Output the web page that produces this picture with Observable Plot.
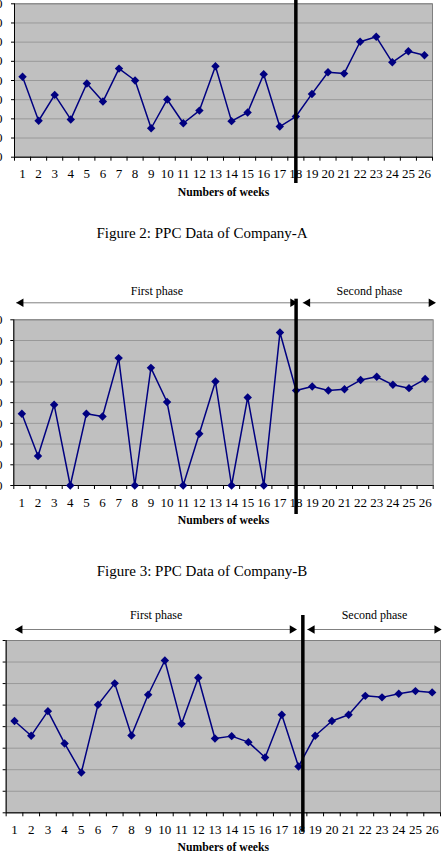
<!DOCTYPE html>
<html><head><meta charset="utf-8">
<script src="https://cdn.jsdelivr.net/npm/d3@7"></script>
<script src="https://cdn.jsdelivr.net/npm/@observablehq/plot@0.6"></script>
<style>
body{margin:0;background:#fff;width:448px;height:855px;overflow:hidden;position:relative;font-family:"Liberation Serif","Times New Roman",serif;}
.chart{position:absolute;left:0;}
.chart svg{overflow:visible;}
.caption{position:absolute;left:0;width:404px;text-align:center;font-size:15px;line-height:18px;color:#000;}
</style></head><body>
<div id="c1" class="chart" style="top:0px"></div>
<div class="caption" style="top:224px">Figure 2: PPC Data of Company-A</div>
<div id="c2" class="chart" style="top:270px"></div>
<div class="caption" style="top:562px">Figure 3: PPC Data of Company-B</div>
<div id="c3" class="chart" style="top:590px"></div>
<script>
// ---- data ----
const weeks = [1,2,3,4,5,6,7,8,9,10,11,12,13,14,15,16,17,18,19,20,21,22,23,24,25,26];
const ppcA = [42,19,32.5,19.7,38.4,29,46.2,40,15.1,30.1,17.7,24.3,47.4,18.8,23.3,43.3,16,21.2,33,44.3,43.6,60.2,62.8,49.5,55.3,53.2];
const ppcB = [34.6,14.2,39,0,34.6,33.3,61.5,0,56.8,40.3,0,25,50.2,0,42.5,0,73.9,45.9,47.8,45.9,46.5,50.9,52.5,48.6,47,51.4];
const ppcC = [42.6,35.8,47.2,32.2,18.7,50.2,60.1,35.9,54.8,70.7,41.3,62.7,34.5,35.6,32.8,25.7,45.5,21.5,35.8,42.6,45.5,54.3,53.6,55.3,56.5,55.9];
const yTicks = [0,10,20,30,40,50,60,70,80];
const xAxisTitle = "Numbers of weeks";
const phaseLabels = ["First phase", "Second phase"];
const phaseStartB = [0.67, 18.44], phaseEndB = [18.07, 26.65];
const phaseStartC = [1.06, 18.55], phaseEndC = [17.89, 26.55];
const phaseBreakA = 18, phaseBreakB = 18, phaseBreakC = 18.26;

const boundaries = weeks.map(w => w - 0.5).concat([weeks[weeks.length - 1] + 0.5]);
const yMax = yTicks[yTicks.length - 1];

function makeChart(o) {
  const data = weeks.map((w, i) => ({week: w, ppc: o.values[i]}));
  const marks = [
    Plot.frame({fill: "#c0c0c0", stroke: "none"}),
    Plot.gridY(yTicks, {stroke: "#999", strokeOpacity: 1, strokeWidth: 1}),
    Plot.frame({stroke: "#808080", strokeWidth: 1}),
    Plot.axisY(yTicks, {tickSize: 3, tickPadding: o.yPad, stroke: "#000", fontSize: 13, label: null,
      tickFormat: o.yLabels ? undefined : () => ""}),
    Plot.ruleX([boundaries[0]], {stroke: "#000", strokeWidth: 1}),
    Plot.ruleY([yTicks[0]], {stroke: "#000", strokeWidth: 1}),
    Plot.axisX(boundaries, {tickSize: 4, tickFormat: () => "", stroke: "#000", label: null}),
    Plot.axisX(weeks, {tickSize: 0, tickPadding: 12, fontSize: 13, label: null}),
    Plot.text([xAxisTitle], {frameAnchor: "bottom", dy: 38.5, fontWeight: "bold", fontSize: 11.7}),
    Plot.line(data, {x: "week", y: "ppc", stroke: "#000080", strokeWidth: 1.5}),
    Plot.dot(data, {x: "week", y: "ppc", symbol: "diamond2", r: 3.8, fill: "#000080", stroke: "none"})
  ];
  if (o.phaseStart) {
    const phases = phaseLabels.map((label, i) => ({label, start: o.phaseStart[i], end: o.phaseEnd[i]}));
    marks.push(
      Plot.ruleY(phases, {y: () => yMax, x1: "start", x2: "end", stroke: "#808080", strokeWidth: 1, dy: -o.arrowDy}),
      Plot.dot(phases, {x: "start", y: () => yMax, symbol: "triangle", rotate: -90, r: 3.1, fill: "#000", stroke: "none", dx: 4.5, dy: -o.arrowDy}),
      Plot.dot(phases, {x: "end", y: () => yMax, symbol: "triangle", rotate: 90, r: 3.1, fill: "#000", stroke: "none", dx: -4.5, dy: -o.arrowDy}),
      Plot.text(phases, {x: d => (d.start + d.end) / 2, y: () => yMax, text: "label", fontSize: 12, dy: -o.textDy})
    );
  }
  marks.push(Plot.ruleX([o.brk], {stroke: "#000", strokeWidth: 3.5, insetTop: o.brkTop, insetBottom: o.brkBottom}));
  return Plot.plot({
    width: 448,
    height: o.height,
    marginTop: o.mt, marginBottom: o.mb, marginLeft: o.ml, marginRight: o.mr,
    x: {type: "linear", domain: [boundaries[0], boundaries[boundaries.length - 1]], label: null},
    y: {domain: [yTicks[0], yMax], label: null},
    style: {fontFamily: "'Liberation Serif', 'Times New Roman', serif", fontSize: "13px", color: "#000", background: "none", overflow: "visible"},
    marks
  });
}

document.getElementById("c1").append(makeChart({
  values: ppcA, height: 205, mt: 3.3, mb: 48.3, ml: 14, mr: 16, yPad: 9, yLabels: true,
  brk: phaseBreakA, brkTop: -3.3, brkBottom: -26.3
}));
document.getElementById("c2").append(makeChart({
  values: ppcB, height: 260, mt: 49.3, mb: 45, ml: 13.3, mr: 15.3, yPad: 8.3, yLabels: true,
  brk: phaseBreakB, brkTop: -20.6, brkBottom: -29,
  phaseStart: phaseStartB, phaseEnd: phaseEndB, arrowDy: 17, textDy: 29
}));
document.getElementById("c3").append(makeChart({
  values: ppcC, height: 265, mt: 50, mb: 42.7, ml: 5.65, mr: 8, yPad: 10, yLabels: false,
  brk: phaseBreakC, brkTop: -25, brkBottom: -19.4,
  phaseStart: phaseStartC, phaseEnd: phaseEndC, arrowDy: 11, textDy: 25.7
}));
</script>
</body></html>
